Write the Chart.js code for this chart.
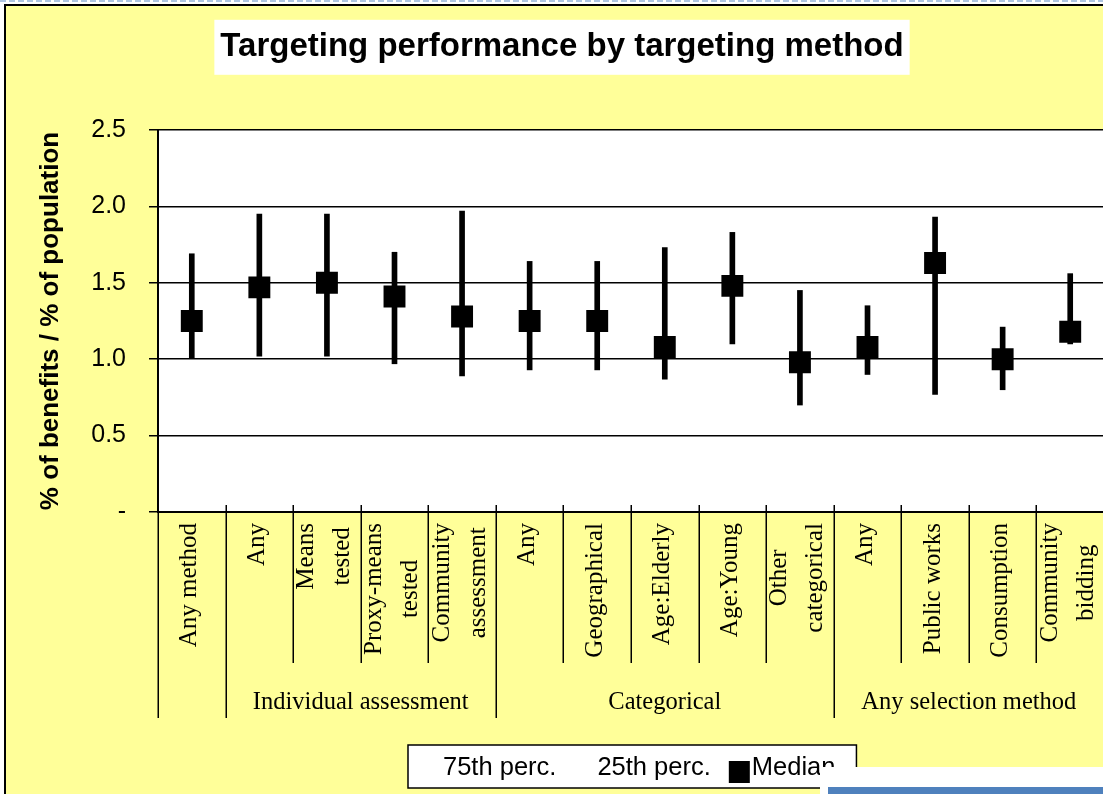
<!DOCTYPE html>
<html><head><meta charset="utf-8">
<script src="https://cdn.jsdelivr.net/npm/chart.js@4/dist/chart.umd.min.js"></script>
<style>html,body{margin:0;padding:0;overflow:hidden;background:#fff;width:1103px;height:794px}canvas{display:block}</style>
</head><body>
<canvas id="c" width="1125" height="794"></canvas>
<script>
const categories = [['Any method'],['Any'],['Means','tested'],['Proxy-means','tested'],['Community','assessment'],['Any'],['Geographical'],['Age:Elderly'],['Age:Young'],['Other','categorical'],['Any'],['Public works'],['Consumption'],['Community','bidding']];
const groupLabels = ['', 'Individual assessment', 'Categorical', 'Any selection method'];
const groupStarts = [0, 1, 5, 10];
const groupEnds = [0, 4, 9, 13];
const p75 = [1.69, 1.95, 1.95, 1.70, 1.97, 1.64, 1.64, 1.73, 1.83, 1.45, 1.35, 1.93, 1.21, 1.56];
const p25 = [1.01, 1.02, 1.02, 0.97, 0.89, 0.93, 0.93, 0.87, 1.10, 0.70, 0.90, 0.77, 0.80, 1.10];
const median = [1.25, 1.47, 1.50, 1.41, 1.28, 1.25, 1.25, 1.08, 1.48, 0.98, 1.08, 1.63, 1.00, 1.18];
const yTickLabels = ['-', '0.5', '1.0', '1.5', '2.0', '2.5'];
const seriesNames = ['75th perc.', '25th perc.', 'Median'];
const titleText = 'Targeting performance by targeting method';
const yAxisTitle = '% of benefits / % of population';

const SANS = '"Liberation Sans", Arial, sans-serif';
const SERIF = '"Liberation Serif", "Times New Roman", serif';
const TITLE_SIZE = 33, TITLE_PAD_TOP = 27.5;

const decor = {
  id: 'decor',
  beforeDraw(chart) {
    const ctx = chart.ctx, W = chart.width, H = chart.height, ca = chart.chartArea;
    ctx.save();
    ctx.fillStyle = '#fff'; ctx.fillRect(0, 0, W, H);
    ctx.fillStyle = '#FFFF99'; ctx.fillRect(5, 5, W, H);
    ctx.strokeStyle = '#000'; ctx.lineWidth = 2; ctx.strokeRect(5, 5, W + 20, H + 20);
    ctx.strokeStyle = '#95B3D7'; ctx.lineWidth = 1.5; ctx.setLineDash([6, 3]);
    ctx.beginPath(); ctx.moveTo(0, 1); ctx.lineTo(W, 1); ctx.stroke(); ctx.setLineDash([]);
    // title white box
    const tb = chart.titleBlock;
    ctx.font = `bold ${TITLE_SIZE}px ${SANS}`;
    const tw = ctx.measureText(titleText).width;
    const cx = (tb.left + tb.right) / 2;
    const my = tb.top + TITLE_PAD_TOP + TITLE_SIZE * 1.2 / 2;
    ctx.fillStyle = '#fff';
    ctx.fillRect(cx - tw / 2 - 6, my - 27.5, tw + 12, 55);
    // plot area
    ctx.fillRect(ca.left, ca.top, ca.right - ca.left, ca.bottom - ca.top);
    ctx.restore();
  },
  afterDraw(chart) {
    const ctx = chart.ctx, W = chart.width, H = chart.height, ca = chart.chartArea;
    const xs = chart.scales.x;
    const n = chart.data.labels.length;
    const cw = xs.getPixelForValue(1) - xs.getPixelForValue(0);
    ctx.save();
    // separators
    const groupBounds = groupStarts.concat([groupEnds[groupEnds.length - 1] + 1]);
    ctx.strokeStyle = '#000'; ctx.lineWidth = 1.5;
    for (let i = 0; i <= n; i++) {
      const x = Math.round(xs.getPixelForValue(i) - cw / 2) + 0.25;
      const long = groupBounds.includes(i);
      ctx.beginPath();
      ctx.moveTo(x, ca.bottom - 7);
      ctx.lineTo(x, ca.bottom + (long ? 206 : 151));
      ctx.stroke();
    }
    // category labels (rotated)
    ctx.fillStyle = '#000';
    ctx.font = `25px ${SERIF}`;
    for (let i = 0; i < n; i++) {
      const lines = chart.data.labels[i];
      const x = xs.getPixelForValue(i);
      const maxW = Math.max(...lines.map(l => ctx.measureText(l).width));
      ctx.save();
      ctx.translate(x, ca.bottom + 11);
      ctx.rotate(-Math.PI / 2);
      ctx.textAlign = 'center'; ctx.textBaseline = 'middle';
      lines.forEach((l, k) => {
        ctx.fillText(l, -maxW / 2, (k - (lines.length - 1) / 2) * 36 - 2);
      });
      ctx.restore();
    }
    // group labels
    ctx.font = `24.5px ${SERIF}`;
    ctx.textAlign = 'center'; ctx.textBaseline = 'middle';
    groupLabels.forEach((g, j) => {
      if (!g) return;
      const x0 = xs.getPixelForValue(groupStarts[j]) - cw / 2;
      const x1 = xs.getPixelForValue(groupEnds[j]) + cw / 2;
      ctx.fillText(g, (x0 + x1) / 2, ca.bottom + 191);
    });
    // legend
    const lx = 408, ly = 745, lh = 43;
    ctx.font = `25.5px ${SANS}`;
    let x = lx + 12;
    const items = [];
    chart.data.datasets.forEach(ds => { if (ds.legend) items.push(ds); });
    let total = 0;
    items.forEach((ds, k) => { total += 23 + ctx.measureText(ds.label).width + (k < items.length - 1 ? 18 : 21); });
    ctx.fillStyle = '#fff'; ctx.fillRect(lx, ly, total + 12, lh);
    ctx.strokeStyle = '#000'; ctx.lineWidth = 1.5; ctx.strokeRect(lx, ly, total + 12, lh);
    ctx.textAlign = 'left'; ctx.textBaseline = 'middle';
    items.forEach((ds, k) => {
      if (ds.pointRadius > 0) { ctx.fillStyle = '#000'; ctx.fillRect(x, ly + 16, 21, 22); }
      ctx.fillStyle = '#000';
      ctx.fillText(ds.label, x + 23, ly + 23);
      x += 23 + ctx.measureText(ds.label).width + 18;
    });
    // overlapping window edge
    ctx.fillStyle = '#fff'; ctx.fillRect(820, 767, W, H);
    ctx.fillStyle = '#4F81BD'; ctx.fillRect(828, 787, W, H);
    ctx.restore();
  }
};

new Chart(document.getElementById('c'), {
  type: 'bar',
  data: {
    labels: categories,
    datasets: [
      { type: 'line', label: seriesNames[0], legend: true, data: p75, showLine: false, pointRadius: 0, order: 3 },
      { type: 'line', label: seriesNames[1], legend: true, data: p25, showLine: false, pointRadius: 0, order: 3 },
      { type: 'line', label: seriesNames[2], legend: true, data: median, showLine: false, pointStyle: 'rect', pointRadius: 15.5, pointHoverRadius: 15.5, backgroundColor: '#000', borderColor: '#000', borderWidth: 0, order: 1 },
      { type: 'bar', label: 'range', legend: false, data: p25.map((v, i) => [v, p75[i]]), backgroundColor: '#000', borderWidth: 0, barThickness: 5, order: 2 }
    ]
  },
  options: {
    responsive: false, animation: false, devicePixelRatio: 1,
    layout: { padding: { left: 20, right: 21, top: 0, bottom: 282 } },
    plugins: {
      legend: { display: false }, tooltip: { enabled: false },
      title: { display: true, text: titleText, color: '#000', font: { family: SANS, size: TITLE_SIZE, weight: 'bold', lineHeight: 1.2 }, padding: { top: TITLE_PAD_TOP, bottom: 130 - TITLE_PAD_TOP - TITLE_SIZE * 1.2 } }
    },
    scales: {
      x: {
        ticks: { display: false },
        grid: { display: false },
        border: { display: true, color: '#000', width: 2 },
        afterFit: s => { s.height = 0; }
      },
      y: {
        min: 0, max: 2.5,
        ticks: { stepSize: 0.5, padding: 23, color: '#000', font: { family: SANS, size: 25 }, callback: (v, i) => yTickLabels[i] },
        grid: { color: '#000', lineWidth: 1.5, tickLength: 9, tickColor: '#000', tickWidth: 1.5 },
        border: { display: true, color: '#000', width: 2 },
        title: { display: true, text: yAxisTitle, color: '#000', font: { family: SANS, size: 26, weight: 'bold', lineHeight: 1.2 }, padding: { top: 15, bottom: 0 } },
        afterFit: s => { s.width = 138; }
      }
    }
  },
  plugins: [decor]
});
</script>
</body></html>
